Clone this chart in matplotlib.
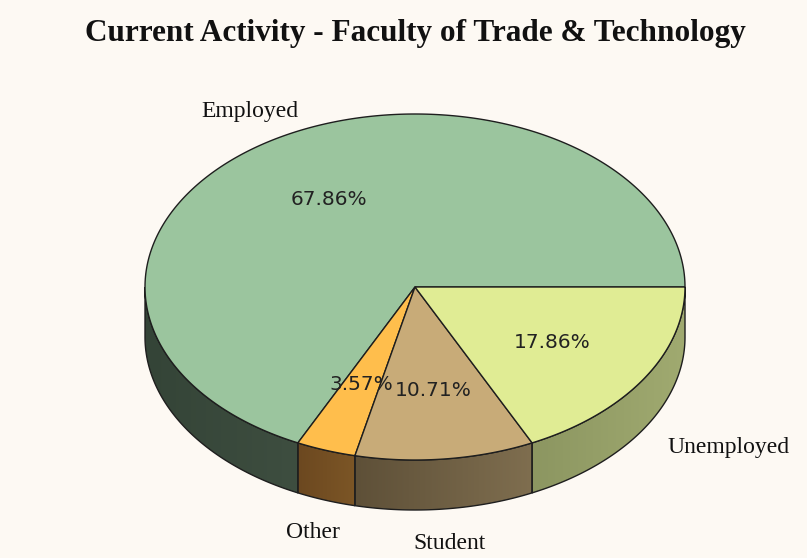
import numpy as np
import matplotlib
matplotlib.use("Agg")
import matplotlib.pyplot as plt
from matplotlib.patches import Polygon
from matplotlib.colors import LinearSegmentedColormap

# data
categories = ["Employed", "Other", "Student", "Unemployed"]
percents = [67.86, 3.57, 10.71, 17.86]

# look
top_colors = ["#9BC59E", "#FFBE4C", "#C8AB78", "#E0EC94"]
side_colors = [("#344437", "#3E4E40"), ("#6C4820", "#7C5626"),
               ("#5E5038", "#7F6E4F"), ("#8C9661", "#A0AA70")]
bg = "#FDF9F3"
edge = "#1E1E1E"

cx, cy = 415, 287      # pie centre, pixels
rx, ry = 270, 173      # ellipse radii
depth = 50

fig = plt.figure(figsize=(8.07, 5.58), dpi=100, facecolor=bg)
ax = fig.add_axes([0, 0, 1, 1])
ax.set_xlim(0, 807)
ax.set_ylim(558, 0)
ax.axis("off")


def pt(t, dz=0.0, k=1.0):
    return cx + k * rx * np.cos(t), cy - k * ry * np.sin(t) + dz


fracs = np.array(percents) / sum(percents)
bounds = np.concatenate([[0], np.cumsum(fracs)]) * 2 * np.pi

# side walls (only front half is visible)
for i in range(len(categories)):
    a = max(bounds[i], np.pi)
    b = min(bounds[i + 1], 2 * np.pi)
    if b <= a:
        continue
    t = np.linspace(a, b, 200)
    xt, yt = pt(t)
    xb, yb = pt(t[::-1], depth)
    verts = np.column_stack([np.r_[xt, xb], np.r_[yt, yb]])
    poly = Polygon(verts, closed=True, facecolor="none", edgecolor=edge,
                   lw=1.0, zorder=3)
    ax.add_patch(poly)
    cmap = LinearSegmentedColormap.from_list("s%d" % i, side_colors[i])
    grad = np.linspace(0, 1, 256).reshape(1, -1)
    im = ax.imshow(grad, cmap=cmap, aspect="auto", zorder=2,
                   extent=[verts[:, 0].min(), verts[:, 0].max(),
                           verts[:, 1].max(), verts[:, 1].min()])
    im.set_clip_path(poly)

# top faces
for i in range(len(categories)):
    t = np.linspace(bounds[i], bounds[i + 1], 300)
    xs, ys = pt(t)
    verts = np.column_stack([np.r_[cx, xs], np.r_[cy, ys]])
    ax.add_patch(Polygon(verts, closed=True, facecolor=top_colors[i],
                         edgecolor=edge, lw=1.0, zorder=4))

# labels
for i, name in enumerate(categories):
    mid = (bounds[i] + bounds[i + 1]) / 2
    c, s = np.cos(mid), np.sin(mid)
    lx = cx + 1.15 * rx * c
    ly = cy - 1.2 * ry * s + (depth if s < 0 else 0)
    ha = "left" if c > 0.7 else ("right" if c < -0.7 else "center")
    if ha == "left":
        lx -= 10
    ax.text(lx, ly, name, ha=ha, va="center", fontsize=17,
            family="Liberation Serif", color="#111111", zorder=6)
    px, py = pt(mid, k=0.6)
    ax.text(px, py, "%.2f%%" % percents[i], ha="center", va="center",
            fontsize=14.5, family="DejaVu Sans", color="#222222", zorder=6)

ax.text(415, 33, "Current Activity - Faculty of Trade & Technology",
        ha="center", va="center", fontsize=22.5, fontweight="bold",
        family="Liberation Serif", color="#111111")

fig.savefig("out.png", dpi=100, facecolor=bg)
